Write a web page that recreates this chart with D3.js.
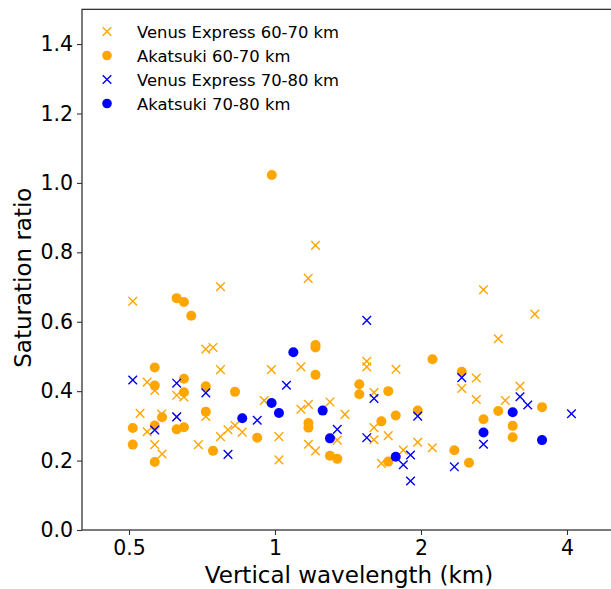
<!DOCTYPE html>
<html>
<head>
<meta charset="utf-8">
<script src="https://cdn.jsdelivr.net/npm/d3@7"></script>
<style>
  html, body { margin: 0; padding: 0; background: #fff; }
  svg { display: block; font-family: "DejaVu Sans", sans-serif; }
</style>
</head>
<body>
<svg id="chart" width="611" height="589"></svg>
<script>
// ---- Data (vertical wavelength in km, saturation ratio) ----
const vex6070X = [0.509,0.772,1.171,1.212,2.691,3.433,2.886,0.720,0.745,0.772,0.983,1.131,1.546,1.546,1.776,2.601,2.427,2.601,3.200,2.985,0.545,0.565,0.627,0.649,0.527,0.584,0.627,0.720,0.545,0.565,0.585,0.695,0.772,0.800,0.827,0.856,0.950,1.019,1.019,1.131,1.172,1.298,1.394,1.172,1.212,1.344,1.600,1.600,1.600,1.712,1.969,2.111,1.839,1.657];
const vex6070Y = [0.659,0.701,0.725,0.820,0.692,0.622,0.551,0.521,0.526,0.462,0.462,0.470,0.486,0.470,0.463,0.438,0.408,0.376,0.414,0.373,0.426,0.402,0.388,0.383,0.336,0.334,0.326,0.327,0.283,0.246,0.219,0.246,0.269,0.289,0.301,0.282,0.373,0.269,0.202,0.348,0.362,0.369,0.333,0.247,0.228,0.259,0.396,0.295,0.260,0.272,0.253,0.237,0.230,0.192];

const aka6070X = [0.985,0.627,0.649,0.672,1.212,1.212,1.212,2.112,2.427,0.565,0.565,0.649,0.649,0.720,0.827,0.585,0.720,0.509,0.565,0.627,0.649,0.509,0.565,0.745,0.919,1.172,1.172,1.298,1.344,1.492,1.492,1.712,1.657,1.774,1.969,1.712,2.343,2.512,2.691,2.886,3.091,3.091,3.553];
const aka6070Y = [1.023,0.668,0.657,0.617,0.533,0.526,0.447,0.492,0.456,0.468,0.416,0.436,0.397,0.414,0.398,0.325,0.341,0.294,0.301,0.290,0.296,0.246,0.196,0.228,0.266,0.308,0.295,0.214,0.205,0.420,0.391,0.400,0.313,0.330,0.344,0.197,0.230,0.194,0.319,0.343,0.300,0.267,0.354];

const vex7080X = [1.546,0.509,0.627,0.720,0.627,0.565,1.056,0.919,0.800,1.344,1.600,1.969,1.546,1.903,1.839,1.903,2.343,2.427,2.691,3.200,3.320,4.086];
const vex7080Y = [0.604,0.432,0.423,0.395,0.326,0.288,0.417,0.316,0.218,0.290,0.379,0.328,0.266,0.216,0.188,0.141,0.182,0.439,0.247,0.384,0.360,0.335];

const aka7080X = [1.091,0.856,0.984,1.019,1.254,1.298,1.774,2.691,3.091,3.553];
const aka7080Y = [0.512,0.322,0.366,0.337,0.344,0.264,0.211,0.281,0.339,0.259];

const xTicks = [0.5, 1, 2, 4];
const xTickLabels = ["0.5", "1", "2", "4"];
const yTicks = [0, 0.2, 0.4, 0.6, 0.8, 1.0, 1.2, 1.4];
const yTickLabels = ["0.0", "0.2", "0.4", "0.6", "0.8", "1.0", "1.2", "1.4"];

const seriesNames = ["Venus Express 60-70 km", "Akatsuki 60-70 km", "Venus Express 70-80 km", "Akatsuki 70-80 km"];
const seriesColors = ["#FFA500", "#FFA500", "#0000FF", "#0000FF"];
const seriesMarkers = ["x", "o", "x", "o"];

(function () {
const series = [
  { name: seriesNames[0], color: seriesColors[0], marker: seriesMarkers[0], xs: vex6070X, ys: vex6070Y },
  { name: seriesNames[1], color: seriesColors[1], marker: seriesMarkers[1], xs: aka6070X, ys: aka6070Y },
  { name: seriesNames[2], color: seriesColors[2], marker: seriesMarkers[2], xs: vex7080X, ys: vex7080Y },
  { name: seriesNames[3], color: seriesColors[3], marker: seriesMarkers[3], xs: aka7080X, ys: aka7080Y }
];

// ---- Layout ----
const pL = 82, pR = 614, pT = 9.35, pB = 530;
const svg = d3.select("#chart");

const x = d3.scaleLog().domain([0.4, 5]).range([pL, pR]);
const y = d3.scaleLinear().domain([0, 1.5]).range([pB, pT]);

svg.append("defs").append("clipPath").attr("id", "plotclip")
  .append("rect").attr("x", pL).attr("y", pT).attr("width", pR - pL).attr("height", pB - pT);

const plot = svg.append("g").attr("clip-path", "url(#plotclip)");

function drawMarker(g, marker, color, cx, cy, s) {
  if (marker === "o") {
    g.append("circle").attr("cx", cx).attr("cy", cy).attr("r", s.r).attr("fill", color);
  } else {
    const h = s.h;
    g.append("path")
      .attr("d", `M${cx - h},${cy - h}L${cx + h},${cy + h}M${cx - h},${cy + h}L${cx + h},${cy - h}`)
      .attr("stroke", color).attr("stroke-width", 1.4).attr("fill", "none");
  }
}

const markerSize = { r: 5, h: 4.3 };
series.forEach(s => {
  const g = plot.append("g");
  s.xs.forEach((v, i) => drawMarker(g, s.marker, s.color, x(v), y(s.ys[i]), markerSize));
});

// ---- Axes ----
const axisColor = "#333";
const xAxis = d3.axisBottom(x).tickValues(xTicks).tickFormat((d, i) => xTickLabels[i]).tickSize(5).tickPadding(5);
const yAxis = d3.axisLeft(y).tickValues(yTicks).tickFormat((d, i) => yTickLabels[i]).tickSize(5).tickPadding(4);

const gx = svg.append("g").attr("transform", `translate(0,${pB})`).call(xAxis);
const gy = svg.append("g").attr("transform", `translate(${pL},0)`).call(yAxis);
[gx, gy].forEach(g => {
  g.select(".domain").remove();
  g.selectAll(".tick line").attr("stroke", axisColor).attr("stroke-width", 1.1);
  g.selectAll(".tick text").attr("fill", "#000").style("font-size", "20.5px").style("font-family", "DejaVu Sans, sans-serif");
});

// frame (spines)
svg.append("rect").attr("x", pL).attr("y", pT).attr("width", pR - pL).attr("height", pB - pT)
  .attr("fill", "none").attr("stroke", axisColor).attr("stroke-width", 1.3);

// axis labels
svg.append("text").attr("x", (pL + pR) / 2 + 1).attr("y", 583).attr("text-anchor", "middle")
  .style("font-size", "23px").text("Vertical wavelength (km)");
svg.append("text").attr("transform", `translate(31,${(pT + pB) / 2 + 8}) rotate(-90)`).attr("text-anchor", "middle")
  .style("font-size", "23px").text("Saturation ratio");

// legend
const legend = svg.append("g");
series.forEach((s, i) => {
  const ly = 31.5 + i * 24;
  drawMarker(legend, s.marker, s.color, 107, ly, { r: 4.8, h: 4.3 });
  legend.append("text").attr("x", 137).attr("y", ly + 6).style("font-size", "16.4px").text(s.name);
});
})();
</script>
</body>
</html>
